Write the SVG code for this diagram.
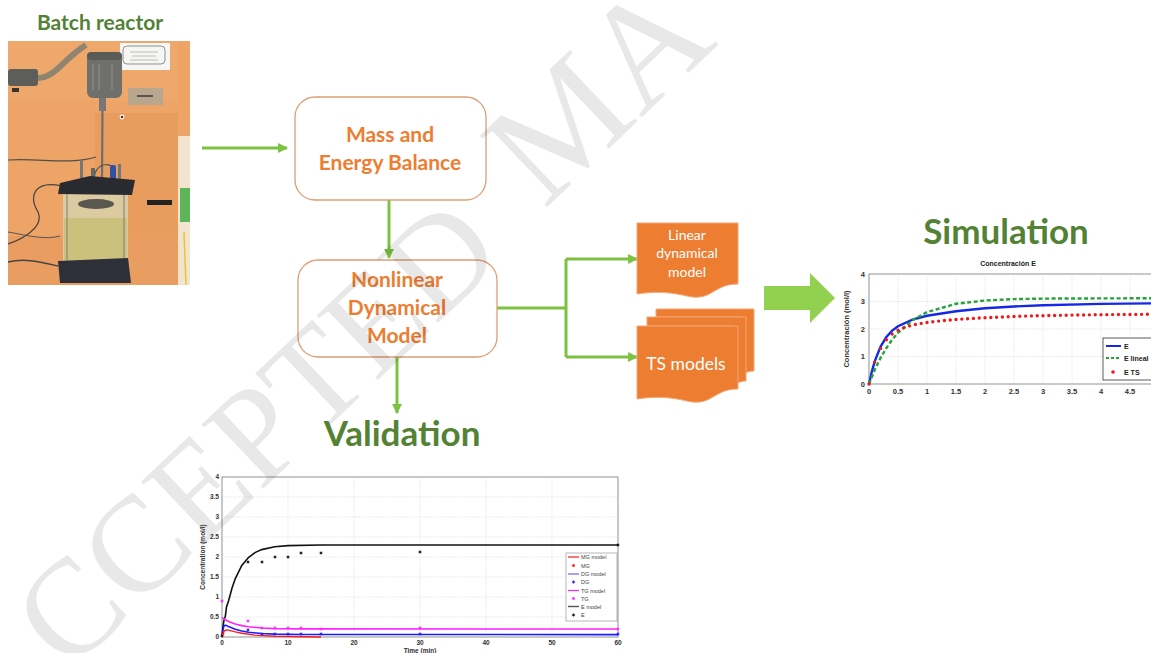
<svg xmlns="http://www.w3.org/2000/svg" xmlns:xlink="http://www.w3.org/1999/xlink" width="1151" height="653" viewBox="0 0 1151 653">
<defs>
<style>
.title{font-family:Lato,'Open Sans',sans-serif;font-weight:bold;fill:#548235;text-anchor:middle}
.boxt{font-family:Lato,'Open Sans',sans-serif;font-weight:bold;fill:#ed7d31;font-size:21px;text-anchor:middle}
.box{fill:#fff;stroke:#dc9f76;stroke-width:1.3}
.doct{font-family:Lato,'Open Sans',sans-serif;fill:#fff;text-anchor:middle}
.doc{fill:#ed7d31;stroke:#f3a877;stroke-width:1}
.conn{fill:none;stroke:#7cc242;stroke-width:3}
.grid{stroke:#d4d4d4;stroke-width:0.6;stroke-dasharray:1.2 1.2}
.ax{fill:#fff;stroke:#777;stroke-width:0.8}
.tk{font-family:'Liberation Sans',Arial,sans-serif;font-size:6.5px;fill:#333;font-weight:bold}
.tk2{font-family:'Liberation Sans',Arial,sans-serif;font-size:7.5px;fill:#333;font-weight:bold}
.lg{font-family:'Liberation Sans',Arial,sans-serif;font-size:5.5px;fill:#444}
.lg2{font-family:'Liberation Sans',Arial,sans-serif;font-size:7px;fill:#222;font-weight:bold}
.wm{font-family:'Liberation Serif','Times New Roman',serif;fill:#000;fill-opacity:0.09}
</style>
<marker id="ah" viewBox="0 0 10 10" refX="9" refY="5" markerWidth="3.3" markerHeight="3.3" orient="auto" markerUnits="strokeWidth">
<path d="M0,0 L10,5 L0,10 Z" fill="#7cc242"/>
</marker>
<path id="st" d="M-1.6,0h3.2M0,-1.6v3.2M-1.1,-1.1l2.2,2.2M-1.1,1.1l2.2,-2.2" fill="none" stroke-width="0.8"/>
<clipPath id="pc"><rect x="8" y="41" width="182" height="244"/></clipPath>
<clipPath id="sc"><rect x="830" y="250" width="321" height="160"/></clipPath>
</defs>
<rect width="1151" height="653" fill="#fff"/>

<g id="batch-reactor">
<text class="title" x="100" y="30" font-size="21">Batch reactor</text>
<g id="photo" clip-path="url(#pc)">
<rect x="8" y="41" width="182" height="244" fill="#eda466"/>
<rect x="8" y="41" width="182" height="60" fill="#f0ab70" opacity="0.6"/>
<rect x="95" y="113" width="83" height="128" fill="#e59a5c" opacity="0.7"/>
<rect x="8" y="236" width="172" height="49" fill="#e99d60"/>
<rect x="178" y="41" width="12" height="244" fill="#f2e4cf"/>
<rect x="178" y="41" width="12" height="95" fill="#eda466"/>
<rect x="180" y="188" width="10" height="34" fill="#5db55a"/>
<line x1="184" y1="232" x2="186" y2="285" stroke="#e8c43a" stroke-width="1.5"/>
<path d="M8,78 H38 C55,78 62,60 86,45" fill="none" stroke="#8f8470" stroke-width="6"/>
<rect x="8" y="69" width="30" height="17" rx="3" fill="#5d5d5a"/>
<rect x="12" y="88" width="7" height="4" fill="#333"/>
<rect x="120" y="43" width="50" height="27" fill="#f6f6f4"/>
<rect x="123" y="46" width="42" height="18" rx="4" fill="none" stroke="#666" stroke-width="0.7"/>
<path d="M130,52h28M132,56h24M130,60h28" stroke="#999" stroke-width="0.6"/>
<rect x="128" y="88" width="35" height="17" fill="#b9a68e"/>
<rect x="137" y="95" width="16" height="2" fill="#555"/>
<circle cx="122" cy="117" r="2.4" fill="#fff"/>
<circle cx="122" cy="117" r="1.3" fill="#333"/>
<rect x="87" y="52" width="35" height="46" rx="6" fill="#6f6f6c"/>
<rect x="87" y="52" width="35" height="8" rx="4" fill="#5a5a57"/>
<path d="M93,64 V90 M99,64 V90 M112,64 V90" stroke="#8d8d89" stroke-width="1.2"/>
<rect x="99" y="98" width="7" height="13" fill="#777"/>
<line x1="102.5" y1="111" x2="102" y2="180" stroke="#6e6e6e" stroke-width="2.2"/>
<path d="M8,160 C40,158 70,165 96,157" fill="none" stroke="#4f4f4f" stroke-width="1.2"/>
<path d="M95,183 C90,160 120,160 112,175" fill="none" stroke="#555" stroke-width="1.2"/>
<path d="M62,186 C35,180 28,195 38,212 C45,228 20,240 8,244" fill="none" stroke="#444" stroke-width="1.2"/>
<path d="M8,232 C30,236 45,240 60,236" fill="none" stroke="#555" stroke-width="1"/>
<path d="M8,262 C25,258 40,262 58,266" fill="none" stroke="#444" stroke-width="1.5"/>
<rect x="147" y="200" width="25" height="5" fill="#222"/>
<rect x="80" y="160" width="3" height="22" fill="#777"/>
<rect x="91" y="168" width="4" height="14" fill="#666"/>
<rect x="118" y="164" width="3" height="18" fill="#777"/>
<rect x="110" y="165" width="6" height="18" rx="2" fill="#3152a3"/>
<rect x="63" y="194" width="65" height="68" fill="#dccaa0"/>
<ellipse cx="96" cy="204" rx="18" ry="5" fill="#5a5650"/>
<rect x="64" y="218" width="63" height="44" fill="#cbc07c"/>
<line x1="67" y1="194" x2="67" y2="262" stroke="#8a8a80" stroke-width="1.2"/>
<line x1="124" y1="194" x2="124" y2="262" stroke="#8a8a80" stroke-width="1.2"/>
<polygon points="60,183 90,176 135,180 132,195 58,194" fill="#2a2b31"/>
<polygon points="58,261 128,258 131,283 60,283" fill="#2d3038"/>
</g>
</g>

<g id="connectors">
<line class="conn" x1="202" y1="148" x2="287" y2="148" marker-end="url(#ah)"/>
<line class="conn" x1="389" y1="200" x2="389" y2="258" marker-end="url(#ah)"/>
<line class="conn" x1="397" y1="357" x2="397" y2="413" marker-end="url(#ah)"/>
<polyline class="conn" points="497,308 566,308"/>
<polyline class="conn" points="566,259 566,357"/>
<line class="conn" x1="566" y1="259" x2="637" y2="259" marker-end="url(#ah)"/>
<line class="conn" x1="566" y1="357" x2="637" y2="357" marker-end="url(#ah)"/>
<polygon id="big-arrow" points="764,286 810,286 810,273 835,298 810,323 810,310 764,310" fill="#92d050"/>
</g>

<g id="mass-energy-balance">
<rect class="box" x="295" y="97" width="191" height="103" rx="20"/>
<text class="boxt" x="390" y="142">Mass and</text>
<text class="boxt" x="390" y="170">Energy Balance</text>
</g>

<g id="nonlinear-model">
<rect class="box" x="298" y="260" width="199" height="97" rx="20"/>
<text class="boxt" x="397" y="287">Nonlinear</text>
<text class="boxt" x="397" y="315">Dynamical</text>
<text class="boxt" x="397" y="343">Model</text>
</g>

<g id="linear-model">
<path class="doc" d="M637,223 H738 V284 C713,284 712,302 687,296 C665,291 652,292 637,294 Z"/>
<text class="doct" x="687" y="240" font-size="14">Linear</text>
<text class="doct" x="687" y="258" font-size="14">dynamical</text>
<text class="doct" x="687" y="277" font-size="14">model</text>
</g>

<g id="ts-models">
<path class="doc" d="M656,309 H754 V371 C745,371 745,375 740,374 V317 H656 Z"/>
<path class="doc" d="M647,317 H746 V381 C738,381 737,385 731,384 V326 H647 Z"/>
<path class="doc" d="M637,326 H738 V389 C713,389 712,407 687,401 C665,396 652,397 637,399 Z"/>
<text class="doct" x="686" y="370" font-size="17.5">TS models</text>
</g>

<g id="validation">
<text class="title" x="402" y="446" font-size="35">Validation</text>
<g id="validation-chart">
<rect class="ax" x="222" y="477" width="396" height="160"/>
<path class="grid" d="M288,477V637M354,477V637M420,477V637M486,477V637M552,477V637M222,497H618M222,517H618M222,537H618M222,557H618M222,577H618M222,597H618M222,617H618"/>
<g class="tk" text-anchor="end">
<text x="219" y="639">0</text><text x="219" y="619">0.5</text><text x="219" y="599">1</text><text x="219" y="579">1.5</text><text x="219" y="559">2</text><text x="219" y="539">2.5</text><text x="219" y="519">3</text><text x="219" y="499">3.5</text><text x="219" y="479">4</text>
</g>
<g class="tk" text-anchor="middle">
<text x="222" y="645">0</text><text x="288" y="645">10</text><text x="354" y="645">20</text><text x="420" y="645">30</text><text x="486" y="645">40</text><text x="552" y="645">50</text><text x="618" y="645">60</text>
</g>
<text class="tk" x="420" y="653" text-anchor="middle">Time (min)</text>
<text class="tk" transform="translate(205,557) rotate(-90)" text-anchor="middle">Concentration (mol/l)</text>
<polyline fill="none" stroke="#111" stroke-width="1.6" points="222,637 223,626 224.2,619 225.3,616.6 226.5,607 228.6,600.8 231.9,588.5 235.2,578.8 241.8,565.5 248.4,557.5 255,552.6 261.6,549.6 274.8,546.7 288,545.6 321,545 618,545"/>
<polyline fill="none" stroke="#ff22ff" stroke-width="1.6" points="222,617.8 225.3,619.8 228.6,621.5 235.2,624 241.8,625.6 248.4,626.8 261.6,628 274.8,628.6 301,628.9 618,629"/>
<polyline fill="none" stroke="#1a1aff" stroke-width="1.6" points="222,634.6 224,625.4 226,625.3 228.6,626.6 235.2,629.2 241.8,631 248.4,632.2 261.6,633.5 274.8,634.1 301,634.5 618,634.6"/>
<polyline fill="none" stroke="#ff1a1a" stroke-width="1.4" points="222,637 224,631.3 226,629.9 228.6,630.1 235.2,631.9 241.8,633.3 255,635.1 275,636.3 321,637"/>
<g stroke="#111">
<use xlink:href="#st" x="222" y="636"/><use xlink:href="#st" x="248" y="562"/><use xlink:href="#st" x="262" y="562"/><use xlink:href="#st" x="275" y="557"/><use xlink:href="#st" x="288" y="557"/><use xlink:href="#st" x="301" y="553"/><use xlink:href="#st" x="321" y="553"/><use xlink:href="#st" x="420" y="552"/><use xlink:href="#st" x="618" y="545"/>
</g>
<g stroke="#ff22ff">
<use xlink:href="#st" x="222" y="601"/><use xlink:href="#st" x="248" y="621"/><use xlink:href="#st" x="262" y="628"/><use xlink:href="#st" x="275" y="628"/><use xlink:href="#st" x="288" y="628"/><use xlink:href="#st" x="301" y="628"/><use xlink:href="#st" x="321" y="629"/><use xlink:href="#st" x="420" y="628"/><use xlink:href="#st" x="618" y="629"/>
</g>
<g stroke="#1a1aff">
<use xlink:href="#st" x="248" y="630"/><use xlink:href="#st" x="262" y="634"/><use xlink:href="#st" x="275" y="634"/><use xlink:href="#st" x="288" y="634"/><use xlink:href="#st" x="301" y="634"/><use xlink:href="#st" x="321" y="634"/><use xlink:href="#st" x="420" y="634"/><use xlink:href="#st" x="618" y="634"/>
</g>
<g stroke="#ff1a1a"><use xlink:href="#st" x="223" y="634"/></g>
<g id="validation-legend">
<rect x="566" y="553" width="51" height="68" fill="#fff" stroke="#888" stroke-width="0.6"/>
<line x1="568" y1="557" x2="579" y2="557" stroke="#ff1a1a" stroke-width="1.2"/>
<use xlink:href="#st" x="573.5" y="565.5" stroke="#ff1a1a"/>
<line x1="568" y1="574" x2="579" y2="574" stroke="#8c8cff" stroke-width="1.6"/>
<use xlink:href="#st" x="573.5" y="582" stroke="#1a1aff"/>
<line x1="568" y1="590.5" x2="579" y2="590.5" stroke="#ff22ff" stroke-width="1.2"/>
<use xlink:href="#st" x="573.5" y="598.5" stroke="#ff22ff"/>
<line x1="568" y1="606.5" x2="579" y2="606.5" stroke="#555" stroke-width="1.4"/>
<use xlink:href="#st" x="573.5" y="615" stroke="#111"/>
<text class="lg" x="581" y="559">MG model</text>
<text class="lg" x="581" y="567.5">MG</text>
<text class="lg" x="581" y="576">DG model</text>
<text class="lg" x="581" y="584">DG</text>
<text class="lg" x="581" y="592.5">TG model</text>
<text class="lg" x="581" y="600.5">TG</text>
<text class="lg" x="581" y="608.5">E model</text>
<text class="lg" x="581" y="617">E</text>
</g>
</g>
</g>

<g id="simulation">
<text class="title" x="1006" y="244" font-size="35">Simulation</text>
<g id="simulation-chart" clip-path="url(#sc)">
<text class="lg2" x="1008" y="266" text-anchor="middle">Concentración E</text>
<rect class="ax" x="869" y="274" width="300" height="110"/>
<path class="grid" d="M898,274V384M927,274V384M956,274V384M985,274V384M1014,274V384M1043,274V384M1072,274V384M1101,274V384M1130,274V384M869,301.5H1160M869,329H1160M869,356.5H1160"/>
<g class="tk2" text-anchor="end">
<text x="865" y="386.5">0</text><text x="865" y="359">1</text><text x="865" y="331.5">2</text><text x="865" y="304">3</text><text x="865" y="276.5">4</text>
</g>
<g class="tk2" text-anchor="middle">
<text x="869" y="394">0</text><text x="898" y="394">0.5</text><text x="927" y="394">1</text><text x="956" y="394">1.5</text><text x="985" y="394">2</text><text x="1014" y="394">2.5</text><text x="1043" y="394">3</text><text x="1072" y="394">3.5</text><text x="1101" y="394">4</text><text x="1130" y="394">4.5</text>
</g>
<text class="tk2" transform="translate(849,329) rotate(-90)" text-anchor="middle">Concentración (mol/l)</text>
<polyline fill="none" stroke="#1428e6" stroke-width="2.4" points="869,384 871.9,371.3 874.8,361.1 880.6,346.5 886.4,337 892.2,330.6 898,326.2 912.5,319.6 927,315.8 956,311.2 985,308.3 1014,306.5 1043,305.2 1101,303.9 1160,303.3"/>
<polyline fill="none" stroke="#23a33a" stroke-width="2.4" stroke-dasharray="4 2.5" points="869,384 874.8,369.8 880.6,357.8 886.4,348 892.2,339.6 898,332.8 912.5,320.2 927,312.1 956,303.8 985,300.5 1014,299.1 1043,298.6 1160,298.2"/>
<path fill="none" stroke="#f01818" stroke-width="3.4" stroke-linecap="round" d="M869,384h0M874.8,362.1h0M880.6,348.4h0M886.4,339.7h0M892.2,334.1h0M898,330.3h0M903.8,327.7h0M909.6,325.9h0M915.4,324.5h0M921.2,323.4h0M927,322.5h0M932.8,321.8h0M938.6,321.1h0M944.4,320.5h0M950.2,320h0M956,319.5h0M961.8,319.1h0M967.6,318.7h0M973.4,318.4h0M979.2,318h0M985,317.7h0M990.8,317.45h0M996.6,317.2h0M1002.4,316.95h0M1008.2,316.7h0M1014,316.5h0M1019.8,316.3h0M1025.6,316.1h0M1031.4,315.9h0M1037.2,315.8h0M1043,315.7h0M1048.8,315.55h0M1054.6,315.45h0M1060.4,315.35h0M1066.2,315.2h0M1072,315.1h0M1077.8,315h0M1083.6,314.95h0M1089.4,314.85h0M1095.2,314.8h0M1101,314.7h0M1106.8,314.65h0M1112.6,314.6h0M1118.4,314.55h0M1124.2,314.5h0M1130,314.45h0M1135.8,314.4h0M1141.6,314.35h0M1147.4,314.3h0"/>
<g id="simulation-legend">
<rect x="1103" y="338" width="60" height="42" fill="#fff" stroke="#333" stroke-width="0.8"/>
<line x1="1106" y1="346" x2="1121" y2="346" stroke="#1428e6" stroke-width="2"/>
<line x1="1106" y1="358" x2="1121" y2="358" stroke="#23a33a" stroke-width="2" stroke-dasharray="3 2"/>
<circle cx="1113" cy="372" r="1.8" fill="#f01818"/>
<text class="lg2" x="1124" y="348.5">E</text>
<text class="lg2" x="1124" y="360.5">E lineal</text>
<text class="lg2" x="1124" y="374.5">E TS</text>
</g>
</g>
</g>

<g id="watermark">
<text class="wm" transform="translate(68,674) rotate(-43.5)" font-size="136">CCEPTED</text>
<text class="wm" transform="translate(544,210) rotate(-43.5)" font-size="150">MA</text>
</g>
</svg>
